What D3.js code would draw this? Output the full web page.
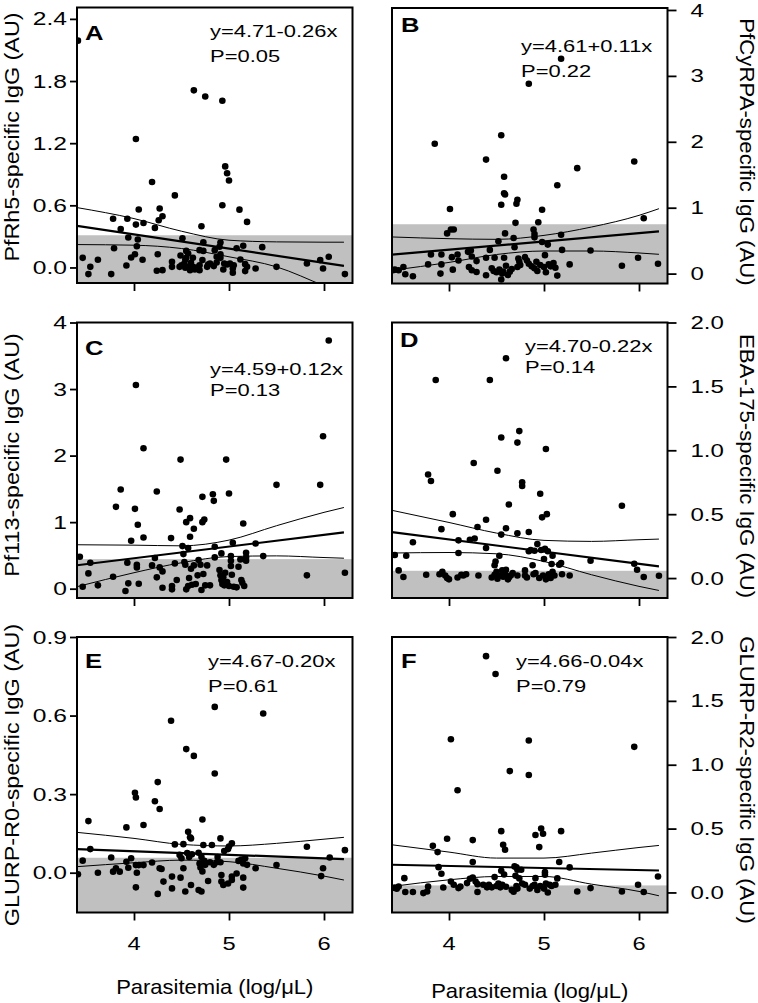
<!DOCTYPE html>
<html><head><meta charset="utf-8">
<script src="https://cdn.jsdelivr.net/npm/d3@7"></script>
<style>body{margin:0;background:#fff} text{font-family:Arial,"Liberation Sans",Helvetica,sans-serif;fill:#000}</style>
</head><body><svg id="c" width="758" height="1003"></svg>
<script>
// ---------- DATA ----------
const xTicks = [4, 5, 6];
const xDomain = [3.4, 6.3];
const xTitle = "Parasitemia (log/\u03bcL)";
const ciX = [3.4, 4.0, 4.5, 5.0, 5.5, 6.0, 6.21];
const fitX = [3.4, 6.21];

const pointsA = [[3.41,2.19],[3.46,0.093],[3.52,-0.064],[3.54,0.006],[3.62,0.074],[3.76,-0.064],[3.78,0.47],[3.79,0.186],[3.86,0.372],[3.92,0.019],[3.93,0.47],[3.94,0.289],[3.97,0.096],[4.01,0.128],[4.02,1.24],[4.02,0.414],[4.03,0.205],[4.04,0.27],[4.05,0.56],[4.09,0.074],[4.10,0.43],[4.19,0.825],[4.22,0.382],[4.24,-0.032],[4.25,0.128],[4.26,0.456],[4.27,0.57],[4.30,0.494],[4.30,-0.026],[4.40,0.055],[4.40,0.006],[4.43,0.696],[4.48,0.006],[4.49,0.116],[4.50,0.022],[4.51,0.282],[4.53,0.039],[4.54,0.077],[4.54,-0.003],[4.55,0.16],[4.55,0.093],[4.57,0.135],[4.57,0.006],[4.59,-0.026],[4.60,0.045],[4.62,0.006],[4.62,0.093],[4.63,1.71],[4.64,-0.019],[4.66,0.0],[4.69,0.167],[4.69,0.022],[4.69,-0.026],[4.71,0.398],[4.72,0.071],[4.73,0.244],[4.73,0.16],[4.75,1.65],[4.77,0.006],[4.78,0.029],[4.80,0.039],[4.84,0.013],[4.85,0.167],[4.87,0.048],[4.87,0.103],[4.90,0.2],[4.91,0.24],[4.91,0.128],[4.91,0.093],[4.93,1.61],[4.93,0.60],[4.94,-0.019],[4.95,0.039],[4.96,0.976],[4.98,0.91],[4.98,0.029],[5.0,0.84],[5.01,0.039],[5.04,-0.01],[5.04,-0.051],[5.05,0.022],[5.08,0.186],[5.11,0.558],[5.12,0.077],[5.15,0.209],[5.17,0.032],[5.17,-0.035],[5.19,0.44],[5.19,0.006],[5.28,-0.01],[5.35,0.196],[5.50,0.006],[5.82,0.039],[5.96,0.071],[5.99,-0.01],[6.05,0.103],[6.22,-0.064]];
const pointsB = [[3.41,0.05],[3.43,0.06],[3.47,0.05],[3.52,0.10],[3.54,-0.01],[3.62,-0.04],[3.78,0.14],[3.81,0.29],[3.85,1.97],[3.91,0.0],[3.92,0.29],[3.92,0.14],[3.98,0.61],[4.01,0.98],[4.02,0.67],[4.05,0.67],[4.03,0.25],[4.04,0.06],[4.09,0.29],[4.10,0.20],[4.20,0.33],[4.23,0.35],[4.21,0.10],[4.24,0.26],[4.24,0.05],[4.29,0.19],[4.29,0.025],[4.39,0.24],[4.39,-0.025],[4.39,1.73],[4.43,0.36],[4.45,0.08],[4.47,0.04],[4.48,0.24],[4.50,0.02],[4.52,0.49],[4.53,0.06],[4.55,2.10],[4.55,1.045],[4.55,-0.09],[4.56,0.0],[4.57,0.03],[4.58,1.47],[4.58,1.22],[4.59,1.20],[4.58,0.24],[4.59,0.61],[4.60,0.12],[4.62,-0.02],[4.64,0.03],[4.66,0.07],[4.68,0.54],[4.69,0.40],[4.70,0.77],[4.71,1.06],[4.72,1.12],[4.73,0.23],[4.74,0.18],[4.72,0.10],[4.75,0.13],[4.80,0.25],[4.82,0.20],[4.84,2.88],[4.84,0.15],[4.87,0.11],[4.89,0.67],[4.90,0.60],[4.90,0.55],[4.90,0.08],[4.92,0.18],[4.93,0.04],[4.94,0.78],[4.96,0.13],[4.98,0.97],[4.98,0.48],[5.00,0.10],[5.01,0.28],[5.02,0.02],[5.04,0.44],[5.05,0.14],[5.07,0.11],[5.10,0.16],[5.12,0.09],[5.14,1.34],[5.14,-0.03],[5.18,0.59],[5.18,3.26],[5.19,0.36],[5.27,0.14],[5.35,1.60],[5.49,0.35],[5.82,0.12],[5.95,1.70],[5.99,0.24],[6.05,0.84],[6.20,0.15]];
const pointsC = [[3.43,0.48],[3.46,0.03],[3.52,0.23],[3.54,0.39],[3.62,0.05],[3.78,0.18],[3.81,1.23],[3.86,1.49],[3.91,-0.035],[3.93,0.39],[3.94,0.08],[3.97,0.72],[4.01,1.20],[4.02,3.06],[4.03,0.36],[4.03,0.32],[4.04,0.96],[4.05,0.075],[4.10,2.11],[4.10,0.77],[4.19,0.35],[4.22,0.46],[4.24,1.46],[4.24,0.17],[4.27,0.32],[4.30,0.26],[4.30,0.015],[4.39,0.76],[4.40,0.04],[4.40,-0.01],[4.43,0.38],[4.45,0.13],[4.48,1.19],[4.49,1.94],[4.51,0.64],[4.52,0.52],[4.53,0.40],[4.54,0.36],[4.55,1.0],[4.55,-0.01],[4.57,0.61],[4.57,0.04],[4.58,0.16],[4.59,1.06],[4.59,0.78],[4.60,0.30],[4.61,0.06],[4.63,0.90],[4.63,0.35],[4.65,0.07],[4.67,0.20],[4.68,0.43],[4.70,0.36],[4.71,-0.02],[4.72,1.0],[4.72,1.38],[4.73,0.22],[4.74,1.04],[4.75,0.05],[4.77,0.35],[4.80,0.05],[4.83,1.42],[4.84,1.32],[4.85,0.63],[4.85,0.47],[4.90,0.28],[4.91,0.20],[4.92,0.53],[4.92,0.13],[4.93,0.07],[4.94,0.17],[4.95,0.05],[4.96,0.24],[4.97,1.94],[4.98,0.10],[5.0,1.43],[5.0,0.04],[5.02,0.49],[5.02,0.42],[5.02,0.34],[5.03,0.21],[5.04,0.69],[5.05,0.03],[5.08,0.02],[5.10,0.33],[5.12,0.44],[5.13,0.13],[5.14,0.09],[5.15,0.98],[5.16,0.04],[5.18,0.54],[5.18,0.47],[5.18,0.42],[5.28,0.68],[5.36,0.49],[5.50,1.56],[5.82,0.20],[5.96,1.56],[5.99,2.29],[6.05,3.73],[6.22,0.24]];
const pointsD = [[3.43,0.18],[3.47,0.06],[3.52,0.008],[3.55,0.175],[3.62,0.28],[3.76,0.026],[3.78,0.81],[3.81,0.76],[3.86,1.55],[3.90,0.03],[3.92,0.383],[3.93,0.05],[3.96,0.02],[3.98,0.0],[4.0,-0.01],[4.04,0.50],[4.09,0.005],[4.10,0.295],[4.10,0.196],[4.13,0.025],[4.15,0.02],[4.18,0.03],[4.22,0.30],[4.26,0.90],[4.27,0.31],[4.30,0.40],[4.31,0.02],[4.39,0.456],[4.39,0.235],[4.43,1.55],[4.45,0.005],[4.48,0.10],[4.48,0.025],[4.49,0.13],[4.50,0.05],[4.51,0.84],[4.51,-0.005],[4.53,0.175],[4.54,0.02],[4.55,1.10],[4.55,0.34],[4.56,0.06],[4.57,0.01],[4.59,0.03],[4.60,1.72],[4.60,0.39],[4.60,0.065],[4.62,-0.01],[4.63,0.576],[4.63,0.005],[4.65,0.02],[4.67,0.04],[4.72,1.06],[4.72,0.35],[4.72,0.02],[4.74,1.15],[4.77,0.75],[4.77,0.72],[4.80,0.06],[4.80,0.02],[4.82,0.005],[4.84,0.36],[4.84,0.21],[4.86,0.22],[4.88,0.10],[4.89,0.03],[4.90,0.214],[4.91,0.04],[4.93,0.266],[4.95,0.0],[4.96,0.66],[4.97,0.22],[4.98,0.475],[4.99,0.02],[5.0,0.149],[5.01,0.23],[5.02,1.01],[5.02,-0.01],[5.03,0.50],[5.04,0.21],[5.05,0.03],[5.07,0.0],[5.08,0.11],[5.09,0.175],[5.09,0.05],[5.11,0.02],[5.16,0.104],[5.18,0.117],[5.19,0.03],[5.27,0.02],[5.49,0.136],[5.82,0.566],[5.95,0.112],[5.98,0.065],[6.05,0.008],[6.21,0.018]];
const pointsE = [[3.41,-0.006],[3.46,0.046],[3.52,0.197],[3.54,0.09],[3.62,0.0],[3.76,0.058],[3.78,0.004],[3.81,0.017],[3.85,0.004],[3.92,0.173],[3.92,0.042],[3.94,0.019],[3.97,0.055],[4.01,0.305],[4.02,0.287],[4.02,0.029],[4.03,0.0],[4.02,-0.056],[4.05,0.029],[4.10,0.182],[4.10,0.029],[4.19,0.039],[4.22,0.273],[4.25,0.346],[4.25,-0.081],[4.27,0.243],[4.27,0.017],[4.29,0.014],[4.31,-0.034],[4.39,0.58],[4.40,-0.015],[4.40,-0.06],[4.43,0.108],[4.48,0.068],[4.49,-0.019],[4.50,0.055],[4.52,0.109],[4.52,0.017],[4.54,-0.072],[4.55,0.472],[4.56,0.075],[4.57,0.156],[4.58,0.06],[4.59,0.135],[4.60,0.131],[4.60,-0.047],[4.61,0.07],[4.63,0.446],[4.68,0.076],[4.68,-0.066],[4.69,0.035],[4.70,0.02],[4.71,0.06],[4.71,-0.072],[4.72,0.203],[4.72,0.005],[4.73,0.106],[4.74,0.045],[4.75,0.03],[4.78,-0.032],[4.80,0.04],[4.82,0.106],[4.84,0.03],[4.85,0.633],[4.85,0.379],[4.87,0.04],[4.88,0.06],[4.91,0.131],[4.91,0.04],[4.92,-0.009],[4.92,-0.034],[4.94,-0.047],[4.95,0.083],[4.99,0.09],[4.99,-0.041],[5.0,0.10],[5.03,0.112],[5.03,-0.028],[5.03,-0.015],[5.08,-0.003],[5.10,0.045],[5.13,0.05],[5.15,0.035],[5.15,-0.019],[5.15,-0.057],[5.17,0.055],[5.19,0.03],[5.28,0.017],[5.36,0.608],[5.50,0.029],[5.82,0.099],[5.97,-0.013],[5.99,0.017],[6.06,0.058],[6.22,0.086]];
const pointsF = [[3.40,0.034],[3.43,0.039],[3.45,0.029],[3.47,0.047],[3.53,0.112],[3.54,0.003],[3.62,0.003],[3.73,-0.005],[3.77,0.008],[3.78,0.047],[3.83,0.365],[3.88,0.316],[3.89,0.198],[3.92,0.146],[3.94,0.039],[3.98,0.42],[4.02,1.20],[4.02,0.086],[4.05,0.06],[4.09,0.80],[4.10,0.034],[4.12,0.047],[4.19,0.073],[4.22,0.107],[4.25,0.41],[4.25,0.238],[4.25,0.117],[4.28,0.086],[4.30,0.065],[4.30,0.003],[4.36,0.06],[4.39,1.85],[4.40,0.04],[4.42,0.06],[4.45,0.04],[4.48,0.12],[4.49,1.71],[4.50,0.05],[4.52,0.07],[4.54,0.04],[4.55,0.48],[4.55,0.17],[4.56,0.06],[4.57,0.373],[4.58,0.14],[4.59,0.334],[4.60,0.045],[4.64,0.95],[4.66,0.02],[4.68,0.005],[4.69,0.204],[4.70,0.13],[4.71,0.196],[4.71,0.05],[4.72,0.178],[4.72,0.03],[4.74,0.11],[4.76,0.178],[4.77,0.07],[4.80,0.06],[4.84,1.19],[4.84,0.92],[4.85,0.03],[4.88,0.05],[4.90,0.06],[4.91,0.45],[4.91,0.112],[4.93,0.02],[4.95,0.355],[4.96,0.05],[4.97,0.50],[4.99,0.46],[5.0,0.03],[5.01,0.159],[5.01,0.138],[5.02,0.07],[5.04,0.0],[5.06,0.06],[5.08,0.05],[5.12,0.06],[5.14,0.11],[5.16,0.238],[5.18,0.48],[5.27,0.196],[5.35,0.008],[5.49,0.034],[5.82,0.008],[5.95,1.14],[5.99,0.06],[6.05,0.003],[6.20,0.125]];

const fitA = [0.401, 0.016], upperA = [0.578,0.472,0.35,0.263,0.247,0.244,0.244], lowerA = [0.221,0.215,0.183,0.103,0.006,-0.177,-0.254];
const fitB = [0.288, 0.641], upperB = [0.556,0.53,0.52,0.58,0.707,0.884,0.985], lowerB = [0.05,0.17,0.29,0.343,0.343,0.313,0.293];
const fitC = [0.352, 0.845], upperC = [0.66,0.654,0.644,0.73,0.946,1.147,1.22], lowerC = [0.03,0.24,0.39,0.483,0.493,0.468,0.458];
const fitD = [0.36, 0.091], upperD = [0.53,0.435,0.352,0.295,0.287,0.30,0.305], lowerD = [0.196,0.20,0.19,0.13,0.026,-0.065,-0.097];
const fitE = [0.09, 0.052], upperE = [0.154,0.131,0.108,0.102,0.112,0.128,0.135], lowerE = [0.023,0.038,0.048,0.042,0.017,-0.013,-0.028];
const fitF = [0.217, 0.172], upperF = [0.373,0.316,0.269,0.269,0.308,0.352,0.368], lowerF = [0.047,0.099,0.125,0.125,0.065,0.008,-0.026];

const cutoffs = {A:0.311, B:0.749, C:0.444, D:0.057, E:0.057, F:0.055};
const yTicksA = [0,0.6,1.2,1.8,2.4], yTicksB = [0,1,2,3,4], yTicksC = [0,1,2,3,4];
const yTicksD = [0,0.5,1.0,1.5,2.0], yTicksE = [0,0.3,0.6,0.9], yTicksF = [0,0.5,1.0,1.5,2.0];
const yTitles = {A:"PfRh5-specific IgG (AU)", B:"PfCyRPA-specific IgG (AU)", C:"Pf113-specific IgG (AU)", D:"EBA-175-specific IgG (AU)", E:"GLURP-R0-specific IgG (AU)", F:"GLURP-R2-specific IgG (AU)"};
const equations = {A:["y=4.71-0.26x","P=0.05"], B:["y=4.61+0.11x","P=0.22"], C:["y=4.59+0.12x","P=0.13"], D:["y=4.70-0.22x","P=0.14"], E:["y=4.67-0.20x","P=0.61"], F:["y=4.66-0.04x","P=0.79"]};

// ---------- LAYOUT ----------
const W = 275.5, H = 275.5;
const panels = [
 {id:"A", pts:pointsA, fit:fitA, up:upperA, lo:lowerA, ticks:yTicksA, dom:[-0.15,2.51], fmt:".1f", x:77, y:7.5, side:"left", lab:[85,40], eq:[210,37.3,62], tc:137, xlab:false},
 {id:"B", pts:pointsB, fit:fitB, up:upperB, lo:lowerB, ticks:yTicksB, dom:[-0.15,4.03], fmt:"d", x:392, y:8, side:"right", lab:[401,32], eq:[521,52.3,76.7], tc:152, xlab:false},
 {id:"C", pts:pointsC, fit:fitC, up:upperC, lo:lowerC, ticks:yTicksC, dom:[-0.14,4.0], fmt:"d", x:77, y:322.5, side:"left", lab:[85,355], eq:[210,375,396], tc:455, xlab:false},
 {id:"D", pts:pointsD, fit:fitD, up:upperD, lo:lowerD, ticks:yTicksD, dom:[-0.156,2.0], fmt:".1f", x:392, y:322.5, side:"right", lab:[400,347], eq:[525,351.7,373.3], tc:466, xlab:false},
 {id:"E", pts:pointsE, fit:fitE, up:upperE, lo:lowerE, ticks:yTicksE, dom:[-0.152,0.9], fmt:".1f", x:77, y:637, side:"left", lab:[85,668], eq:[208,666.7,691.7], tc:775, xlab:true, xt:994},
 {id:"F", pts:pointsF, fit:fitF, up:upperF, lo:lowerF, ticks:yTicksF, dom:[-0.157,2.0], fmt:".1f", x:392, y:637, side:"right", lab:[401,668], eq:[516,666.7,691.7], tc:780, xlab:true, xt:998}
];

const svg = d3.select("#c");
function txt(x, y, str, o) {
  const g = svg.append("g").attr("transform", `translate(${x},${y}) rotate(${o.rot||0}) scale(${o.sx||1},1)`);
  g.append("text").attr("text-anchor", o.anchor||"start").style("font-size", o.size+"px")
   .style("font-weight", o.weight||"normal").text(str);
}

panels.forEach(p => {
  const xs = d3.scaleLinear().domain(xDomain).range([p.x, p.x+W]);
  const ys = d3.scaleLinear().domain(p.dom).range([p.y+H, p.y]);
  const cid = "clip"+p.id;
  svg.append("clipPath").attr("id", cid).append("rect").attr("x", p.x).attr("y", p.y).attr("width", W).attr("height", H);
  const g = svg.append("g").attr("clip-path", `url(#${cid})`);
  // gray cutoff band
  g.append("rect").attr("x", p.x).attr("width", W).attr("y", ys(cutoffs[p.id])).attr("height", p.y+H-ys(cutoffs[p.id])).attr("fill", "#c0c0c0");
  // points
  g.selectAll("circle").data(p.pts).join("circle").attr("cx", d=>xs(d[0])).attr("cy", d=>ys(d[1])).attr("r", 3.3).attr("fill", "#000");
  // fit and CI lines
  const line = d3.line().x(d=>xs(d[0])).y(d=>ys(d[1])).curve(d3.curveMonotoneX);
  g.append("path").attr("d", line(fitX.map((x,i)=>[x,p.fit[i]]))).attr("fill","none").attr("stroke","#000").attr("stroke-width",2.2);
  [p.up, p.lo].forEach(arr => g.append("path").attr("d", line(ciX.map((x,i)=>[x,arr[i]]))).attr("fill","none").attr("stroke","#000").attr("stroke-width",1));
  // box
  svg.append("rect").attr("x", p.x).attr("y", p.y).attr("width", W).attr("height", H).attr("fill","none").attr("stroke","#000").attr("stroke-width",2);
  // x axis ticks
  const xa = svg.append("g").attr("transform", `translate(0,${p.y+H})`).call(d3.axisBottom(xs).tickValues(xTicks).tickSize(8).tickSizeOuter(0).tickFormat(""));
  xa.select(".domain").remove();
  xa.selectAll("line").attr("stroke-width", 1.8);
  if (p.xlab) {
    xTicks.forEach(t => txt(xs(t), 950, String(t), {size:18.5, sx:1.28, anchor:"middle"}));
    txt(p.x+W/2, p.xt, xTitle, {size:20, sx:1.1, anchor:"middle"});
  }
  // y axis
  const f = d3.format(p.fmt);
  if (p.side === "left") {
    const ya = svg.append("g").attr("transform", `translate(${p.x},0)`).call(d3.axisLeft(ys).tickValues(p.ticks).tickSize(7).tickSizeOuter(0).tickFormat(""));
    ya.select(".domain").remove(); ya.selectAll("line").attr("stroke-width",1.8);
    p.ticks.forEach(t => txt(p.x-10, ys(t)+6.6, f(t), {size:18.5, sx:1.33, anchor:"end"}));
    txt(19, p.tc, yTitles[p.id], {size:20.5, sx:1.14, anchor:"middle", rot:-90});
  } else {
    const ya = svg.append("g").attr("transform", `translate(${p.x+W},0)`).call(d3.axisRight(ys).tickValues(p.ticks).tickSize(9).tickSizeOuter(0).tickFormat(""));
    ya.select(".domain").remove(); ya.selectAll("line").attr("stroke-width",1.8);
    p.ticks.forEach(t => txt(p.x+W+23, ys(t)+6.6, f(t), {size:18.5, sx:1.3, anchor:"start"}));
    txt(740, p.tc, yTitles[p.id], {size:19.5, sx:1.14, anchor:"middle", rot:90});
  }
  // panel letter and equation
  txt(p.lab[0], p.lab[1], p.id, {size:21, sx:1.22, weight:"bold"});
  txt(p.eq[0], p.eq[1], equations[p.id][0], {size:16.5, sx:1.33});
  txt(p.eq[0], p.eq[2], equations[p.id][1], {size:16.5, sx:1.33});
});
</script></body></html>
